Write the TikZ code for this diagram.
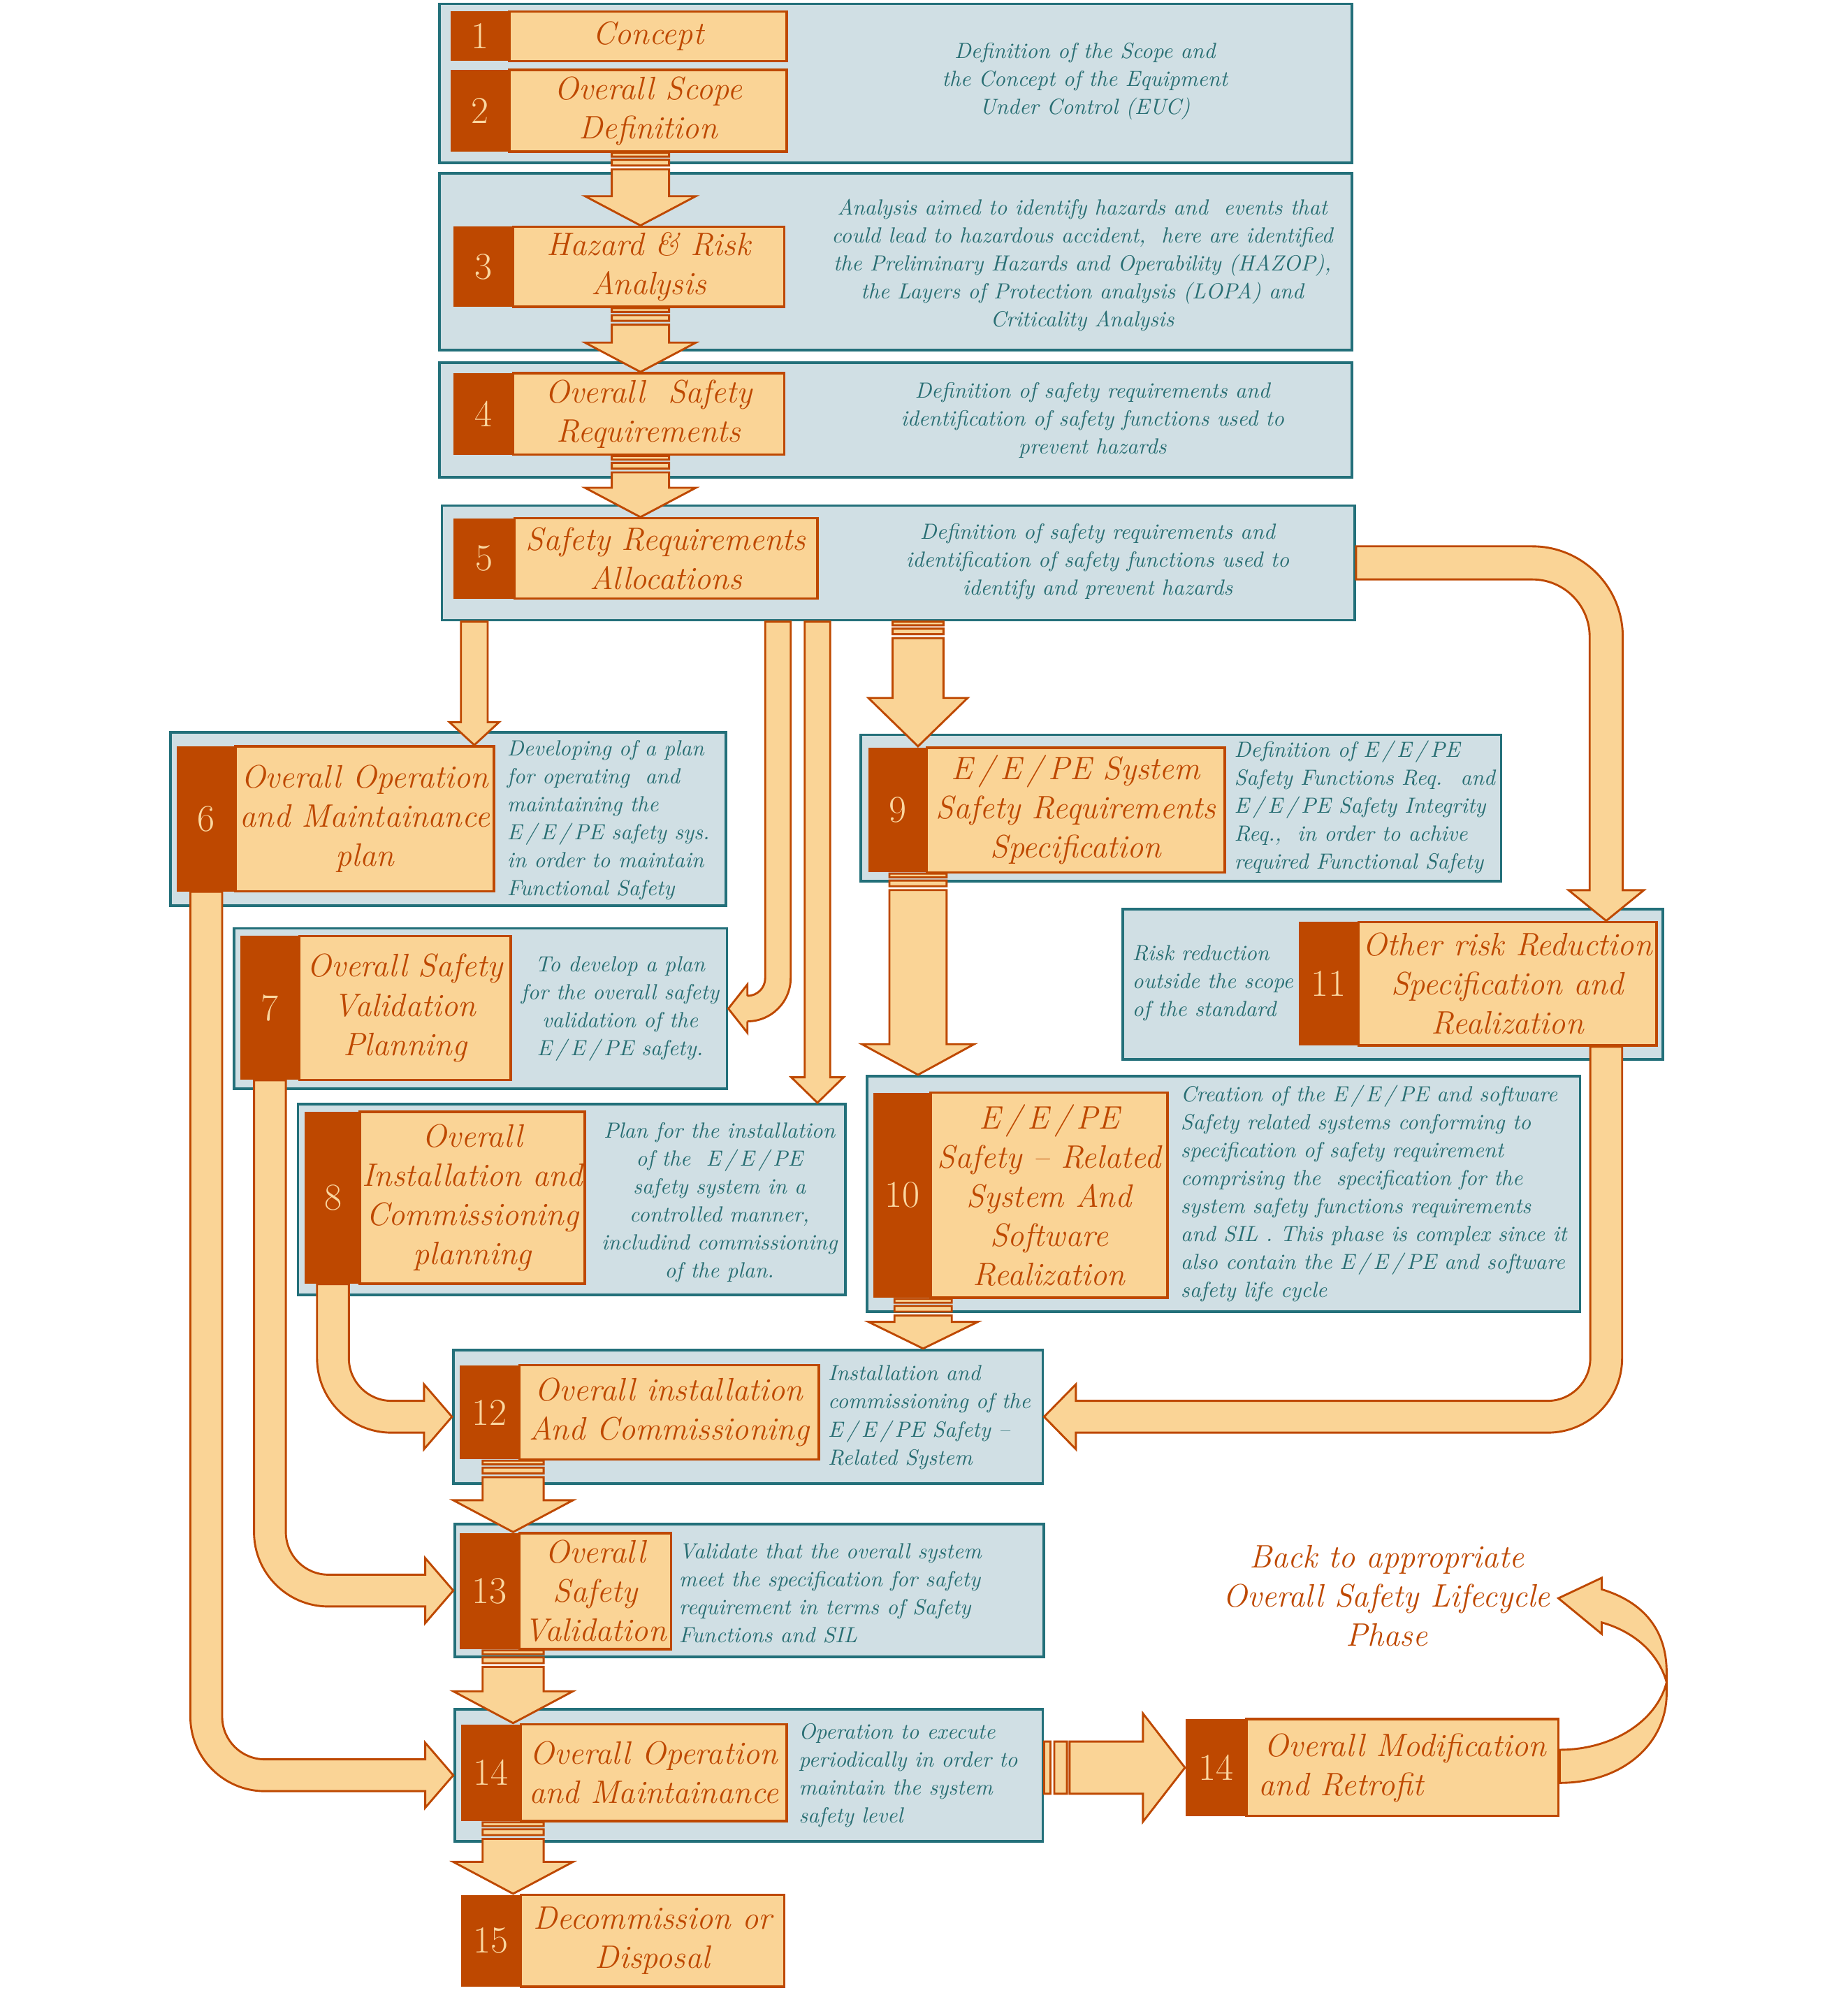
\documentclass[tikz,border=0pt]{standalone}
\usetikzlibrary{calc}

\definecolor{peach}{HTML}{FAD496}
\definecolor{rust}{HTML}{BE4800}
\definecolor{tealline}{HTML}{23707A}
\definecolor{bluefill}{HTML}{D0DFE4}
\definecolor{tealtext}{HTML}{286E73}
\definecolor{numtext}{HTML}{FAD7A0}

% one picture unit
\newcommand{\gu}{0.569055pt}
\newcommand{\labelfont}{\fontsize{14.5}{17.5}\selectfont\itshape}
\newcommand{\backfont}{\fontsize{14.5}{17.5}\selectfont\itshape}
\newcommand{\descfont}{\fontsize{9.8}{12.5}\selectfont\itshape}
\newcommand{\numfont}{\fontsize{17}{17}\selectfont}
\newcommand{\eepe}{E\,/\,E\,/\,PE}

\tikzset{
  stage/.style={draw=tealline, fill=bluefill, line width=1.2pt, inner sep=0pt},
  numbox/.style={fill=rust, text=numtext, font=\numfont, inner sep=0pt},
  labelbox/.style={draw=rust, fill=peach, text=rust, font=\labelfont, line width=1.1pt, align=center, inner sep=1pt},
  desc/.style={text=tealtext, font=\descfont, inner sep=0pt},
  blockarrow/.style={draw=rust, fill=peach, line width=0.9pt, line join=miter},
  backtext/.style={text=rust, font=\backfont, align=center, inner sep=0pt},
}

% blue stage: name, x1, y1, x2, y2
\newcommand{\stage}[5]{%
  \node[stage, minimum width={(#4-#2)*\gu}, minimum height={(#5-#3)*\gu}]
    (#1) at ({(#2+#4)/2},{(#3+#5)/2}) {};}

% phase: [opts], name, number, x1, x2, x3, y1, y2, text
\newcommand{\phase}[9][]{%
  \node[numbox, minimum width={(#5-#4)*\gu}, minimum height={(#8-#7)*\gu}]
    (#2n) at ({(#4+#5)/2},{(#7+#8)/2}) {#3};
  \node[labelbox, minimum width={(#6-#5)*\gu}, minimum height={(#8-#7)*\gu}, #1]
    (#2) at ({(#5+#6)/2},{(#7+#8)/2}) {#9};}

% from, to, shaft half, head half, head length
\newcommand{\stripedown}[5]{%
  \path[blockarrow] let \p1=#1, \p2=#2 in
    ({\x1-#3*\gu},\y1) rectangle ({\x1+#3*\gu},{\y1-3*\gu})
    ({\x1-#3*\gu},{\y1-5.5*\gu}) rectangle ({\x1+#3*\gu},{\y1-10*\gu})
    ({\x1-#3*\gu},{\y1-13*\gu}) -- ({\x1+#3*\gu},{\y1-13*\gu})
    -- ({\x1+#3*\gu},{\y2+#5*\gu}) -- ({\x1+#4*\gu},{\y2+#5*\gu})
    -- (\x1,\y2) -- ({\x1-#4*\gu},{\y2+#5*\gu})
    -- ({\x1-#3*\gu},{\y2+#5*\gu}) -- cycle;}

\newcommand{\plaindown}[5]{%
  \path[blockarrow] let \p1=#1, \p2=#2 in
    ({\x1-#3*\gu},\y1) -- ({\x1+#3*\gu},\y1)
    -- ({\x1+#3*\gu},{\y2+#5*\gu}) -- ({\x1+#4*\gu},{\y2+#5*\gu})
    -- (\x1,\y2) -- ({\x1-#4*\gu},{\y2+#5*\gu})
    -- ({\x1-#3*\gu},{\y2+#5*\gu}) -- cycle;}

\newcommand{\striperight}[5]{%
  \path[blockarrow] let \p1=#1, \p2=#2 in
    (\x1,{\y2-#3*\gu}) rectangle ({\x1+5*\gu},{\y2+#3*\gu})
    ({\x1+8*\gu},{\y2-#3*\gu}) rectangle ({\x1+18*\gu},{\y2+#3*\gu})
    ({\x1+20*\gu},{\y2+#3*\gu}) -- ({\x2-#5*\gu},{\y2+#3*\gu})
    -- ({\x2-#5*\gu},{\y2+#4*\gu}) -- (\x2,\y2)
    -- ({\x2-#5*\gu},{\y2-#4*\gu}) -- ({\x2-#5*\gu},{\y2-#3*\gu})
    -- ({\x1+20*\gu},{\y2-#3*\gu}) -- cycle;}

% from, to, half width, bend radius, head half, head length
\newcommand{\bendright}[6]{%
  \path[blockarrow] let \p1=#1, \p2=#2 in
    ({\x1-#3*\gu},\y1) -- ({\x1-#3*\gu},{\y2+#4*\gu})
    arc[start angle=180, end angle=270, radius={(#4+#3)*\gu}]
    -- ({\x2-#6*\gu},{\y2-#3*\gu}) -- ({\x2-#6*\gu},{\y2-#5*\gu}) -- (\x2,\y2)
    -- ({\x2-#6*\gu},{\y2+#5*\gu}) -- ({\x2-#6*\gu},{\y2+#3*\gu})
    -- ({\x1+#4*\gu},{\y2+#3*\gu})
    arc[start angle=270, end angle=180, radius={(#4-#3)*\gu}]
    -- ({\x1+#3*\gu},\y1) -- cycle;}

\newcommand{\bendleft}[6]{%
  \path[blockarrow] let \p1=#1, \p2=#2 in
    ({\x1+#3*\gu},\y1) -- ({\x1+#3*\gu},{\y2+#4*\gu})
    arc[start angle=0, end angle=-90, radius={(#4+#3)*\gu}]
    -- ({\x2+#6*\gu},{\y2-#3*\gu}) -- ({\x2+#6*\gu},{\y2-#5*\gu}) -- (\x2,\y2)
    -- ({\x2+#6*\gu},{\y2+#5*\gu}) -- ({\x2+#6*\gu},{\y2+#3*\gu})
    -- ({\x1-#4*\gu},{\y2+#3*\gu})
    arc[start angle=-90, end angle=0, radius={(#4-#3)*\gu}]
    -- ({\x1-#3*\gu},\y1) -- cycle;}

\newcommand{\rightdown}[6]{%
  \path[blockarrow] let \p1=#1, \p2=#2 in
    (\x1,{\y1+#3*\gu}) -- ({\x2-#4*\gu},{\y1+#3*\gu})
    arc[start angle=90, end angle=0, radius={(#4+#3)*\gu}]
    -- ({\x2+#3*\gu},{\y2+#6*\gu}) -- ({\x2+#5*\gu},{\y2+#6*\gu}) -- (\x2,\y2)
    -- ({\x2-#5*\gu},{\y2+#6*\gu}) -- ({\x2-#3*\gu},{\y2+#6*\gu})
    -- ({\x2-#3*\gu},{\y1-#4*\gu})
    arc[start angle=0, end angle=90, radius={(#4-#3)*\gu}]
    -- (\x1,{\y1-#3*\gu}) -- cycle;}

\begin{document}
\begin{tikzpicture}[x=0.02cm, y=-0.02cm]
    \useasboundingbox (0,0) rectangle (1451,1565);

    % stages
    \stage{g1}{345}{3}{1062}{128}
    \stage{g3}{345}{136}{1062}{275}
    \stage{g4}{345}{285}{1062}{375}
    \stage{g5}{347}{397}{1064}{487}
    \stage{g6}{134}{575}{570}{711}
    \stage{g7}{184}{729}{571}{855}
    \stage{g8}{234}{867}{664}{1017}
    \stage{g9}{676}{577}{1179}{692}
    \stage{g11}{882}{714}{1306}{832}
    \stage{g10}{681}{845}{1241}{1030}
    \stage{g12}{356}{1060}{819}{1165}
    \stage{g13}{357}{1197}{820}{1301}
    \stage{g14}{357}{1342}{819}{1446}

    % descriptions
    \node[desc, align=center] (d1) at (852,64) {Definition of the Scope and\\the Concept of the Equipment\\Under Control (EUC)};
    \node[desc, align=center] (d3) at (850,208) {Analysis aimed to identify hazards and~ events that\\could lead to hazardous accident,~ here are identified\\the Preliminary Hazards and Operability (HAZOP),\\the Layers of Protection analysis (LOPA) and\\Criticality Analysis};
    \node[desc, align=center] (d4) at (858,330) {Definition of safety requirements and\\identification of safety functions used to\\prevent hazards};
    \node[desc, align=center] (d5) at (862,441) {Definition of safety requirements and\\identification of safety functions used to\\identify and prevent hazards};
    \node[desc, align=left, anchor=west] (d6) at (398,644) {Developing of a plan\\for operating~ and\\maintaining the\\\eepe{} safety sys.\\in order to maintain\\Functional Safety};
    \node[desc, align=center] (d7) at (487,792) {To develop a plan\\for the overall safety\\validation of the\\\eepe{} safety.};
    \node[desc, align=center] (d8) at (565,944) {Plan for the installation\\of the~ \eepe\\safety system in a\\controlled manner,\\includind commissioning\\of the plan.};
    \node[desc, align=left, anchor=west] (d9) at (969,634) {Definition of \eepe\\Safety Functions Req.~ and\\\eepe{} Safety Integrity\\Req.,~ in order to achive\\required Functional Safety};
    \node[desc, align=left, anchor=west] (d11) at (889,772) {Risk reduction\\outside the scope\\of the standard};
    \node[desc, align=left, anchor=west] (d10) at (927,937) {Creation of the \eepe{} and software\\Safety related systems conforming to\\specification of safety requirement\\comprising the~ specification for the\\system safety functions requirements\\and SIL . This phase is complex since it\\also contain the \eepe{} and software\\safety life cycle};
    \node[desc, align=left, anchor=west] (d12) at (650,1113) {Installation and\\commissioning of the\\\eepe{} Safety –\\Related System};
    \node[desc, align=left, anchor=west] (d13) at (533,1251) {Validate that the overall system\\meet the specification for safety\\requirement in terms of Safety\\Functions and SIL};
    \node[desc, align=left, anchor=west] (d14) at (627,1394) {Operation to execute\\periodically in order to\\maintain the system\\safety level};
    \node[backtext] (back) at (1089,1253) {Back to appropriate\\Overall Safety Lifecycle\\Phase};

    % phases
    \phase{p1}{1}{354}{400}{618}{9}{48}{Concept}
    \phase{p2}{2}{354}{400}{618}{55}{119}{Overall Scope\\Definition}
    \phase{p3}{3}{356}{403}{616}{178}{241}{Hazard \& Risk\\Analysis}
    \phase{p4}{4}{356}{403}{616}{293}{357}{Overall~ Safety\\Requirements}
    \phase{p5}{5}{356}{404}{642}{407}{470}{Safety Requirements\\Allocations}
    \phase{p6}{6}{139}{185}{388}{586}{700}{Overall Operation\\and Maintainance\\plan}
    \phase{p7}{7}{189}{235}{401}{735}{848}{Overall Safety\\Validation\\Planning}
    \phase{p8}{8}{239}{284}{458}{873}{1008}{Overall\\Installation and\\Commissioning\\planning}
    \phase{p9}{9}{682}{728}{962}{587}{685}{\eepe{} System\\Safety Requirements\\Specification}
    \phase{p11}{11}{1020}{1067}{1301}{724}{821}{Other risk Reduction\\Specification and\\Realization}
    \phase{p10}{10}{686}{731}{917}{858}{1019}{\eepe\\Safety – Related\\System And\\Software\\Realization}
    \phase{p12}{12}{361}{408}{643}{1072}{1146}{Overall installation\\And Commissioning}
    \phase{p13}{13}{361}{408}{527}{1204}{1295}{Overall\\Safety\\Validation}
    \phase{p14}{14}{362}{409}{618}{1354}{1430}{Overall Operation\\and Maintainance}
    \phase{p15}{15}{362}{409}{616}{1488}{1560}{Decommission or\\Disposal}
    \phase[align=left]{pm}{14}{931}{979}{1224}{1350}{1426}{\,Overall Modification\\and Retrofit}

    % arrow columns
    \coordinate (mainx) at (503,0);
    \coordinate (ninex) at (721,0);
    \coordinate (tenx) at (725,0);
    \coordinate (lowx) at (403,0);
    \coordinate (sixx) at (372.5,0);
    \coordinate (sevenx) at (611,0);
    \coordinate (eightx) at (642,0);
    \coordinate (elevx) at (1261.5,0);

    % connectors
    \stripedown{(p2.south -| mainx)}{(p3.north -| mainx)}{22.5}{43.5}{23}
    \stripedown{(p3.south -| mainx)}{(p4.north -| mainx)}{22.5}{43.5}{23}
    \stripedown{(p4.south -| mainx)}{(p5.north -| mainx)}{22.5}{43.5}{23}
    \stripedown{(g5.south -| ninex)}{(p9.north -| ninex)}{20}{39}{38}
    \stripedown{(p9.south -| ninex)}{(g10.north -| ninex)}{22.5}{44}{24}
    \stripedown{(p10.south -| tenx)}{(g12.north -| tenx)}{22.5}{43}{21}
    \stripedown{(p12.south -| lowx)}{(p13.north -| lowx)}{24}{47}{25}
    \stripedown{(p13.south -| lowx)}{(p14.north -| lowx)}{24}{47}{25}
    \stripedown{(p14.south -| lowx)}{(p15.north -| lowx)}{24}{47}{25}
    \plaindown{(g5.south -| sixx)}{(p6.north -| sixx)}{10.5}{19.5}{18}
    \plaindown{(g5.south -| eightx)}{(g8.north -| eightx)}{10}{20.5}{20}
    \bendleft{(g5.south -| sevenx)}{(g7.east)}{10}{24}{19}{15}
    \rightdown{(g5.east)}{(p11.north -| elevx)}{13}{58}{29.5}{24}
    \bendleft{(p11.south -| elevx)}{(g12.east)}{12.5}{46}{25.5}{25}
    \bendright{(p8n.south)}{(g12.west)}{12.5}{46}{25.5}{22}
    \bendright{(p7n.south)}{(g13.west)}{12.5}{46}{25.5}{22}
    \bendright{(p6n.south)}{(g14.west)}{12.5}{46}{25.5}{22}
    \striperight{(g14.east |- pmn.west)}{(pmn.west)}{20.5}{42.5}{33}

    % back to the lifecycle
    \begin{scope}[shift={(pm.east)}]
        \path[blockarrow] (0,12) .. controls (51,12) and (84,-20) .. (84,-58)
            -- (84,-75) .. controls (84,-108) and (66,-130) .. (33,-140)
            -- (33,-149) -- (-1,-133) -- (33,-105) -- (33,-114)
            .. controls (61,-106) and (78,-88) .. (84,-67)
            .. controls (76,-36) and (41,-14) .. (0,-14) -- cycle;
    \end{scope}
\end{tikzpicture}
\end{document}
